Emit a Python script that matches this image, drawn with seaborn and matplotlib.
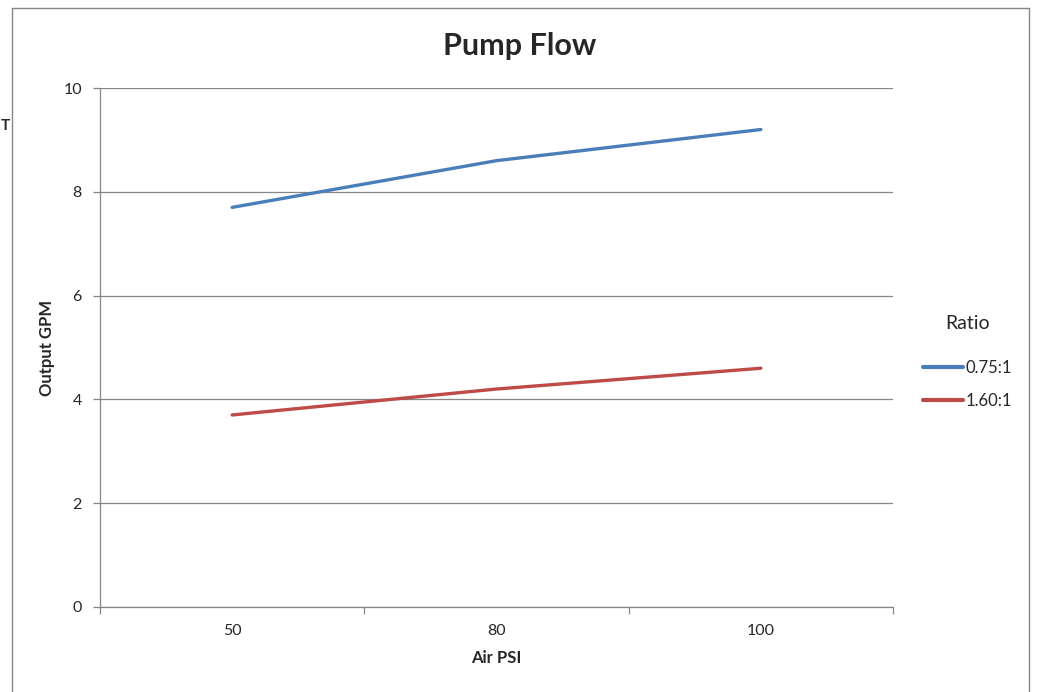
import matplotlib
matplotlib.use("Agg")
import matplotlib.pyplot as plt
from matplotlib.lines import Line2D
import seaborn as sns
import pandas as pd

air_psi = ["50", "80", "100"]
ratio_075 = [7.7, 8.6, 9.2]
ratio_160 = [3.7, 4.2, 4.6]
series_names = ["0.75:1", "1.60:1"]
y_ticks = [0, 2, 4, 6, 8, 10]

df = pd.DataFrame({
    "Air PSI": air_psi * 2,
    "Output GPM": ratio_075 + ratio_160,
    "Ratio": [series_names[0]] * 3 + [series_names[1]] * 3,
})

sns.set_theme(style="white")
plt.rcParams['font.family'] = ['Lato', 'DejaVu Sans']

W, H = 1037, 692
fig = plt.figure(figsize=(W / 100, H / 100), dpi=100)
ax = fig.add_axes([100 / W, 1 - 607 / H, (893 - 100) / W, (607 - 88) / H])

palette = {series_names[0]: "#4A7EBB", series_names[1]: "#BE4B48"}
sns.lineplot(data=df, x="Air PSI", y="Output GPM", hue="Ratio", palette=palette,
             linewidth=2.4, ax=ax, sort=False)

gray = "#868686"
ax.set_xlim(-0.5, 2.5)
ax.set_ylim(0, 10)
ax.set_yticks(y_ticks)
ax.set_yticklabels([str(v) for v in y_ticks], fontsize=11.5)
ax.yaxis.grid(True, color=gray, linewidth=0.9)
ax.xaxis.grid(False)
ax.set_axisbelow(True)
ax.tick_params(axis="y", which="major", direction="out", length=5, color=gray,
               width=0.9, pad=8, left=True)
ax.set_xticks([0, 1, 2])
ax.set_xticklabels(air_psi, fontsize=11.5)
ax.set_xticks([-0.5, 0.5, 1.5, 2.5], minor=True)
ax.tick_params(axis="x", which="major", length=0, pad=12)
ax.tick_params(axis="x", which="minor", direction="out", length=5, color=gray,
               width=0.9, bottom=True)
for s in ["top", "right"]:
    ax.spines[s].set_visible(False)
for s in ["left", "bottom"]:
    ax.spines[s].set_color(gray)
    ax.spines[s].set_linewidth(0.9)

ax.set_xlabel("Air PSI", fontsize=12, fontweight="bold", labelpad=9)
ax.set_ylabel("Output GPM", fontsize=12, fontweight="bold", labelpad=6)

fig.text(520 / W, 1 - 46 / H, "Pump Flow", ha="center", va="center",
         fontsize=22, fontweight="bold")

handles = [Line2D([], [], color=palette[n], linewidth=3) for n in series_names]
leg = ax.legend(handles, series_names, title="Ratio", frameon=False, fontsize=12,
                title_fontsize=14, loc="center left", bbox_to_anchor=(908 / W, 1 - 362 / H),
                bbox_transform=fig.transFigure, handlelength=2.4, handletextpad=0.15,
                labelspacing=1.05)
leg._legend_box.sep = 20

# chart border
fig.add_artist(Line2D([12 / W, 12 / W], [0, 1 - 8 / H], transform=fig.transFigure,
                      color=gray, linewidth=1))
fig.add_artist(Line2D([12 / W, 1029 / W], [1 - 8 / H, 1 - 8 / H], transform=fig.transFigure,
                      color=gray, linewidth=1))
fig.add_artist(Line2D([1029 / W, 1029 / W], [0, 1 - 8 / H], transform=fig.transFigure,
                      color=gray, linewidth=1))
fig.text(1 / W, 1 - 126 / H, "T", ha="left", va="center", fontsize=11, fontweight="bold")

fig.savefig("out.png", dpi=100)
